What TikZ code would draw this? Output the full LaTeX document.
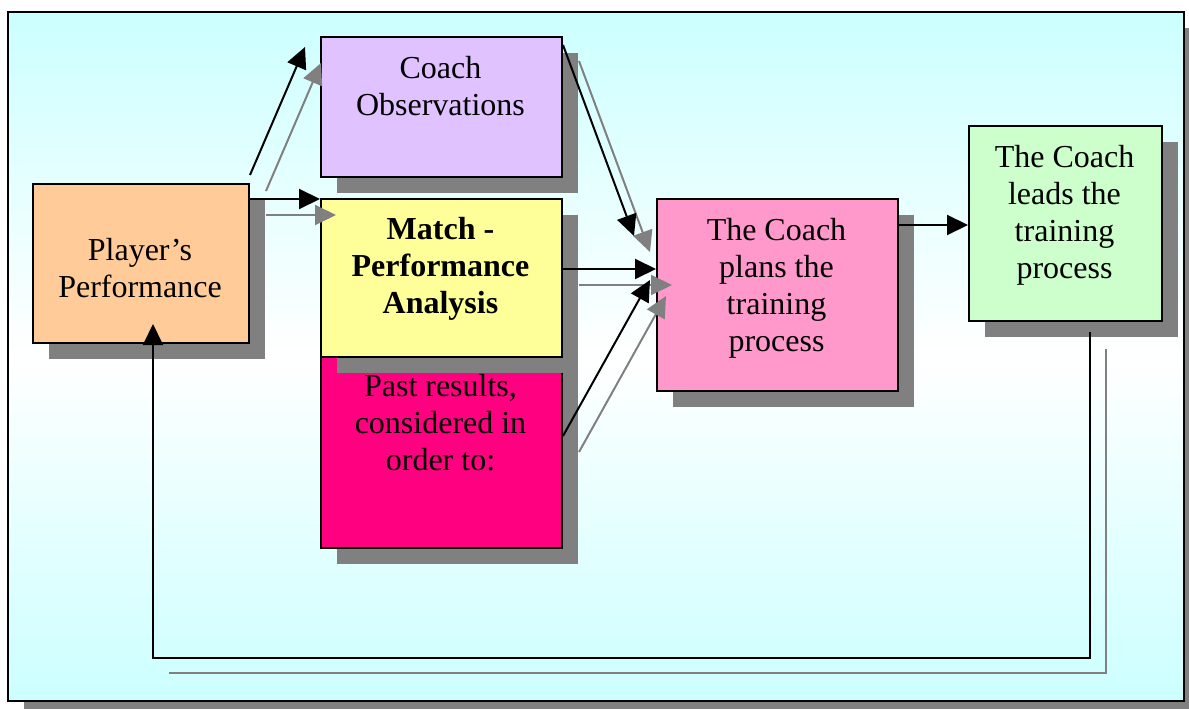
\documentclass[tikz,border=0pt]{standalone}
\usepackage{fontspec}
\setmainfont{Liberation Serif}
\usetikzlibrary{arrows.meta,shadows}
\definecolor{bgcyan}{RGB}{204,255,255}
\definecolor{shadowgray}{RGB}{128,128,128}
\definecolor{peach}{RGB}{255,204,153}
\definecolor{lavender}{RGB}{223,194,255}
\definecolor{lightyellow}{RGB}{255,255,153}
\definecolor{hotmagenta}{RGB}{255,0,128}
\definecolor{pinkbox}{RGB}{255,153,204}
\definecolor{lightgreen}{RGB}{204,255,204}
\begin{document}
\begin{tikzpicture}[x=1pt,y=-1pt,
  box/.style={draw=black, line width=2pt, anchor=north west, inner sep=0pt,
    drop shadow={shadow xshift=16pt, shadow yshift=-16pt, fill=shadowgray, opacity=1}},
  boxtext/.style={anchor=base, align=flush center, text width=230pt, inner sep=0pt,
    font=\fontsize{32}{37}\selectfont},
  boldtext/.style={boxtext, font=\fontsize{32}{37}\selectfont\bfseries},
  blk/.style={draw=black, line width=2pt, -{Triangle[length=21pt,width=20pt]}},
  gry/.style={draw=shadowgray, line width=2pt, -{Triangle[length=21pt,width=20pt]}},
  gryline/.style={draw=shadowgray, line width=2pt},
]
\useasboundingbox (0,0) rectangle (1189,709);
% frame
\fill[shadowgray] (24,28) rectangle (1200,717);
\shade[top color=bgcyan, bottom color=bgcyan, middle color=white] (8,12) rectangle (1184,701);
\draw[line width=2pt] (8,12) rectangle (1184,701);

% boxes
\node[box, fill=peach, minimum width=216pt, minimum height=159pt] (player) at (32,183) {};
\node[box, fill=lavender, minimum width=241pt, minimum height=140pt] (obs) at (320,36) {};
\node[box, fill=hotmagenta, minimum width=241pt, minimum height=191pt] (past) at (320,356) {};
\node[box, fill=lightyellow, minimum width=241pt, minimum height=158pt] (mpa) at (320,198) {};
\node[box, fill=pinkbox, minimum width=241pt, minimum height=192pt] (plan) at (656,198) {};
\node[box, fill=lightgreen, minimum width=193pt, minimum height=195pt] (lead) at (968,125) {};

% texts
\node[boxtext] (tplayer) at (140,260) {Player’s\\Performance};
\node[boxtext] (tobs) at (440.5,78) {Coach\\Observations};
\node[boldtext] (tmpa) at (440.5,239) {Match -\\Performance\\Analysis};
\node[boxtext] (tpast) at (440.5,396) {Past results,\\considered in\\order to:};
\node[boxtext] (tplan) at (776.5,240) {The Coach\\plans the\\training\\process};
\node[boxtext, text width=185pt] (tlead) at (1064.5,167) {The Coach\\leads the\\training\\process};

% connectors (gray shadows first)
\draw[gry] ([shift={(16,8)}]player.north east) -- ([shift={(1,27)}]obs.north west);
\draw[gry] ([shift={(16,32)}]player.north east) -- ([shift={(16,17)}]mpa.north west);
\draw[gry] ([shift={(16,25)}]obs.north east) -- ([shift={(-6,54)}]plan.north west);
\draw[gry] ([shift={(16,87)}]mpa.north east) -- ([shift={(16,87)}]plan.north west);
\draw[gry] ([shift={(16,96)}]past.north east) -- ([shift={(10,98)}]plan.north west);

\draw[blk] ([shift={(0,-8)}]player.north east) -- ([shift={(-15,11)}]obs.north west);
\draw[blk] ([shift={(0,16)}]player.north east) -- ([shift={(0,1)}]mpa.north west);
\draw[blk] ([shift={(0,9)}]obs.north east) -- ([shift={(-22,38)}]plan.north west);
\draw[blk] ([shift={(0,71)}]mpa.north east) -- ([shift={(0,71)}]plan.north west);
\draw[blk] ([shift={(0,80)}]past.north east) -- ([shift={(-6,82)}]plan.north west);
\draw[blk] ([shift={(0,27)}]plan.north east) -- ([shift={(0,100)}]lead.north west);

% feedback loop
\coordinate (fb) at ([shift={(24.5,10)}]lead.south);
\coordinate (fbg) at ([shift={(16,17)}]fb);
\draw[gryline] (fbg) -- ++(0,324) -- ++(-937,0);
\draw[blk, shorten >=-20pt] (fb) -- ++(0,326) -| ([xshift=12pt]player.south);
\end{tikzpicture}
\end{document}
